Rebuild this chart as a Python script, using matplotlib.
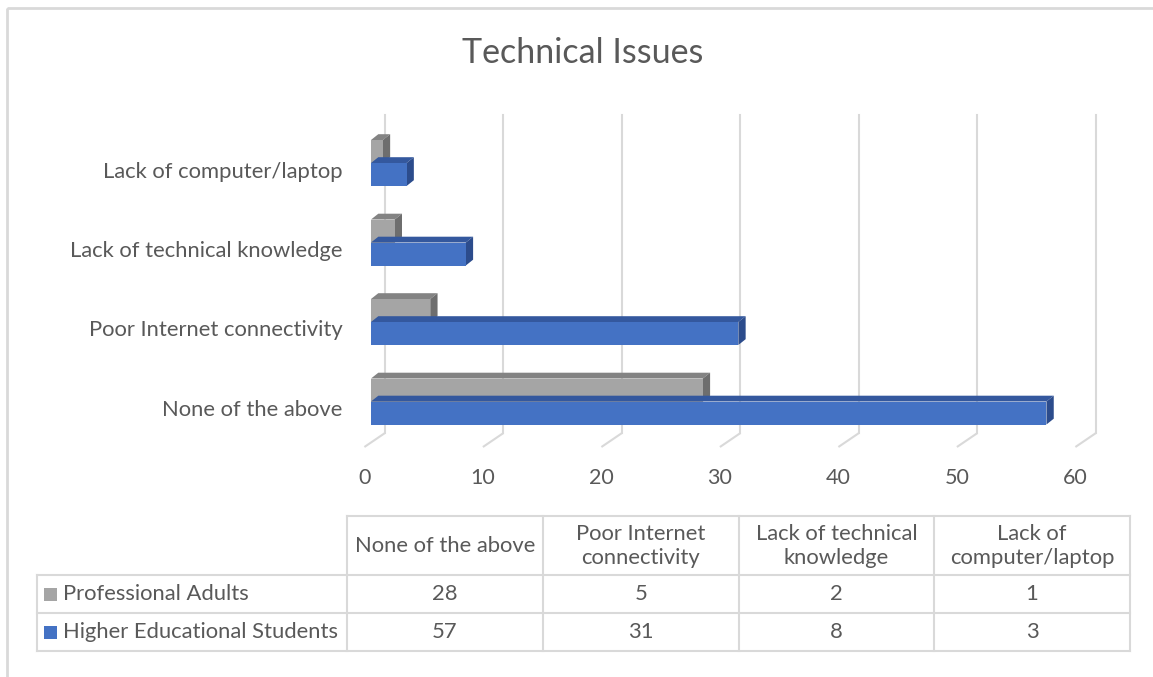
import matplotlib.pyplot as plt
from matplotlib.patches import Polygon, Rectangle
from matplotlib.lines import Line2D

plt.rcParams['font.family'] = ['Lato', 'DejaVu Sans']

# Data
categories = ['None of the above', 'Poor Internet connectivity',
              'Lack of technical knowledge', 'Lack of computer/laptop']
table_headers = ['None of the above', 'Poor Internet\nconnectivity',
                 'Lack of technical\nknowledge', 'Lack of\ncomputer/laptop']
series_names = ['Professional Adults', 'Higher Educational Students']
professional = [28, 5, 2, 1]
students = [57, 31, 8, 3]
ticks = [0, 10, 20, 30, 40, 50, 60]

text_color = '#595959'
grid_color = '#D9D9D9'
front_colors = ['#A5A5A5', '#4472C4']
top_colors = ['#838383', '#34589E']
side_colors = ['#6E6E6E', '#2C4C8C']

W, H = 1153, 677
fig = plt.figure(figsize=(W / 100, H / 100), dpi=100)

# pixel-space overlay for frame, title and data table
over = fig.add_axes([0, 0, 1, 1], zorder=0)
over.set_xlim(0, W)
over.set_ylim(H, 0)
over.axis('off')

# plot area: x in value units, y in category units
px_x, px_y = 11.85, 79.5
x_left_px, x0_px = 359.15, 371
y0_px = 401.5
ax = fig.add_axes([x_left_px / W, (H - (y0_px + 0.6 * px_y)) / H,
                   (x0_px + 62 * 11.85 - x_left_px) / W, 4.25 * px_y / H], zorder=1)
ax.set_xlim(-1, 62)
ax.set_ylim(-0.6, 3.65)
ax.axis('off')

# depth of bars and of the floor, in data units
bar_dx, bar_dy = 7.3 / px_x, 5.8 / px_y
floor_front_dx, floor_back_dx = -6.6 / px_x, 14 / px_x
floor_front_y, floor_back_y = (y0_px - 447) / px_y, (y0_px - 433) / px_y
wall_top_y = (y0_px - 115) / px_y

for v in ticks:
    # floor diagonal and back-wall gridline
    ax.plot([v + floor_front_dx, v + floor_back_dx], [floor_front_y, floor_back_y],
            color=grid_color, lw=1.5, solid_capstyle='butt', clip_on=False, zorder=1)
    ax.plot([v + floor_back_dx, v + floor_back_dx], [floor_back_y, wall_top_y],
            color=grid_color, lw=1.5, clip_on=False, zorder=1)
    ax.text(v + floor_front_dx, (y0_px - 478) / px_y, str(v), ha='center', va='center',
            fontsize=15.5, color=text_color, clip_on=False)

bar_h = 23 / px_y
ypos = list(range(len(categories)))
for s, (vals, offset) in enumerate([(professional, bar_h / 2), (students, -bar_h / 2)]):
    centers = [y + offset for y in ypos]
    ax.barh(centers, vals, height=bar_h, color=front_colors[s], zorder=3 + s)
    for yc, v in zip(centers, vals):
        top = yc + bar_h / 2
        bot = yc - bar_h / 2
        ax.add_patch(Polygon([(0, top), (v, top), (v + bar_dx, top + bar_dy),
                              (bar_dx, top + bar_dy)], closed=True,
                             facecolor=top_colors[s], edgecolor='none', zorder=2 + s))
        ax.add_patch(Polygon([(v, bot), (v + bar_dx, bot + bar_dy),
                              (v + bar_dx, top + bar_dy), (v, top)], closed=True,
                             facecolor=side_colors[s], edgecolor='none', zorder=2 + s))

for y, name in zip(ypos, categories):
    ax.text(-2.4, y - 8.5 / px_y, name, ha='right', va='center', fontsize=15.8,
            color=text_color, clip_on=False)

# chart frame
over.add_patch(Rectangle((6.5, 8), 1200, 700, fill=False, edgecolor=grid_color, lw=2))

over.text(583, 53, 'Technical Issues', ha='center', va='center', fontsize=24.5,
          color=text_color)

# data table
col_x = [37, 347, 543, 739, 934, 1130]
row_y = [516, 575, 613, 651]
tl = dict(color=grid_color, lw=1.5)
over.add_line(Line2D([col_x[1], col_x[-1]], [row_y[0], row_y[0]], **tl))
for y in row_y[1:]:
    over.add_line(Line2D([col_x[0], col_x[-1]], [y, y], **tl))
over.add_line(Line2D([col_x[0], col_x[0]], [row_y[1], row_y[-1]], **tl))
for x in col_x[1:]:
    over.add_line(Line2D([x, x], [row_y[0], row_y[-1]], **tl))

for i, head in enumerate(table_headers):
    over.text((col_x[i + 1] + col_x[i + 2]) / 2, (row_y[0] + row_y[1]) / 2 + 0.5, head,
              ha='center', va='center', fontsize=15.8, color=text_color, linespacing=1.28)

for r, (name, vals) in enumerate(zip(series_names, [professional, students])):
    yc = (row_y[r + 1] + row_y[r + 2]) / 2
    over.add_patch(Rectangle((44, yc - 6.5), 13, 13, facecolor=front_colors[r], edgecolor='none'))
    over.text(63, yc, name, ha='left', va='center', fontsize=15.8, color=text_color)
    for i, v in enumerate(vals):
        over.text((col_x[i + 1] + col_x[i + 2]) / 2, yc, str(v), ha='center',
                  va='center', fontsize=15.8, color=text_color)

fig.savefig('out.png', dpi=100)
